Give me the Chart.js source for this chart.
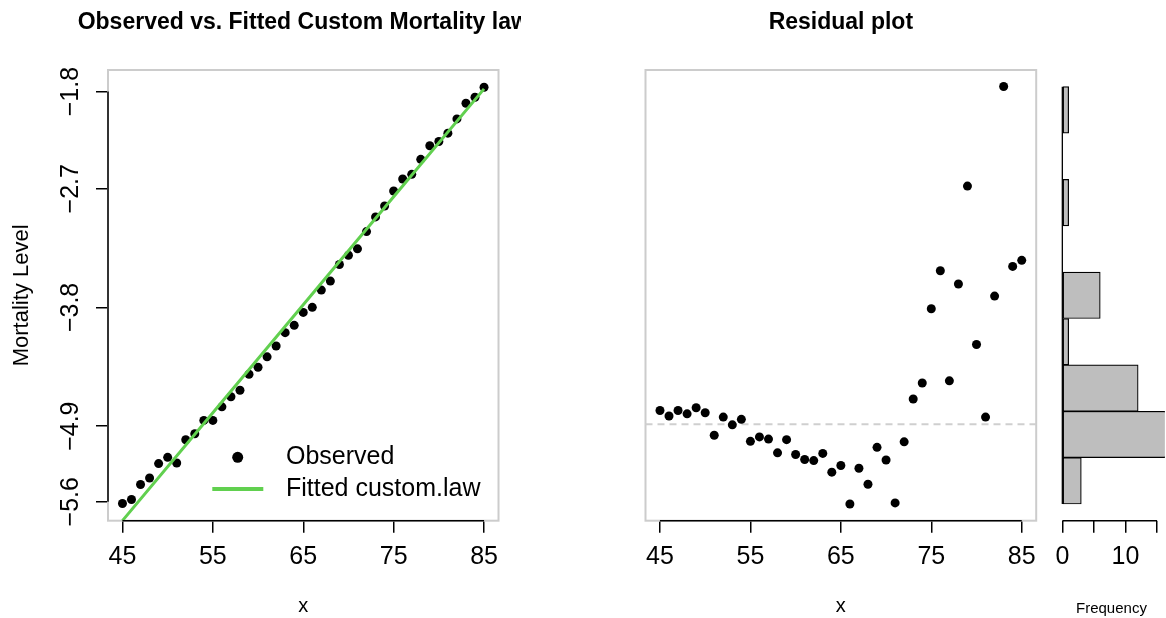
<!DOCTYPE html>
<html>
<head>
<meta charset="utf-8">
<script src="https://cdn.jsdelivr.net/npm/chart.js@4.4.1/dist/chart.umd.min.js"></script>
<style>
  body { margin: 0; background: #fff; }
  #page { position: relative; width: 1166px; height: 618px; overflow: hidden; font-family: "Liberation Sans", Arial, Helvetica, sans-serif; }
  .panel { position: absolute; top: 0; height: 618px; overflow: hidden; }
  .panel canvas { position: absolute; top: 0; left: 0; }
  .main-title { position: absolute; top: 8px; font-weight: bold; font-size: 23px; line-height: 27.6px; white-space: nowrap; transform: translateX(-50%); }
</style>
</head>
<body>
<div id="page">
  <div class="panel" style="left:0;width:521px">
    <canvas id="fitChart" width="521" height="618"></canvas>
    <div class="main-title" style="left:303.25px">Observed vs. Fitted Custom Mortality law</div>
  </div>
  <div class="panel" style="left:524px;width:532px">
    <canvas id="residChart" width="532" height="618"></canvas>
    <div class="main-title" style="left:316.85px">Residual plot</div>
  </div>
  <div class="panel" style="left:1046px;width:120px">
    <canvas id="histChart" width="120" height="618"></canvas>
  </div>
</div>
<script>
// ages and log mortality
const ages = [45, 46, 47, 48, 49, 50, 51, 52, 53, 54, 55, 56, 57, 58, 59, 60, 61, 62, 63, 64, 65,
  66, 67, 68, 69, 70, 71, 72, 73, 74, 75, 76, 77, 78, 79, 80, 81, 82, 83, 84, 85];
const observedLevel = [-5.617, -5.580, -5.441, -5.380, -5.247, -5.189, -5.241, -5.026, -4.970, -4.847,
  -4.847, -4.721, -4.628, -4.567, -4.419, -4.354, -4.258, -4.157, -4.034, -3.966, -3.846,
  -3.799, -3.639, -3.556, -3.402, -3.316, -3.257, -3.097, -2.961, -2.860, -2.721,
  -2.610, -2.567, -2.428, -2.302, -2.262, -2.185, -2.053, -1.908, -1.852, -1.760];
const fittedAges = [45, 55, 65, 75, 85];
const fittedLevel = [-5.775, -4.775, -3.775, -2.775, -1.775];

// residuals (middle panel) and their histogram (right panel)
const residuals = [0.25, 0.15, 0.25, 0.19, 0.30, 0.21, -0.20, 0.13, -0.01, 0.09,
  -0.31, -0.23, -0.27, -0.52, -0.28, -0.55, -0.64, -0.66, -0.53, -0.87, -0.75,
  -1.45, -0.80, -1.09, -0.42, -0.65, -1.43, -0.32, 0.46, 0.75, 2.10,
  2.79, 0.79, 2.55, 4.33, 1.45, 0.13, 2.33, 6.14, 2.87, 2.98];
const freqBreaks = [-2, -1, 0, 1, 2, 3, 4, 5, 6, 7];
const freqCounts = [3, 17, 12, 1, 6, 0, 1, 0, 1];

const ageTicks = [45, 55, 65, 75, 85];
const levelTicks = [-1.8, -2.7, -3.8, -4.9, -5.6];
const freqTicks = [0, 5, 10, 15];

Chart.defaults.font.family = '"Liberation Sans", Arial, Helvetica, sans-serif';
Chart.defaults.color = '#000';

const minus = s => String(s).replace('-', '\u2212');
const tickMarks = { display: true, drawOnChartArea: false, drawTicks: true, tickLength: 12, color: '#000', lineWidth: 1.5 };
const setTicks = list => scale => { scale.ticks = list.map(v => ({ value: v })); };

// grey frame round the plot region
const frameBox = {
  id: 'frameBox',
  beforeDatasetsDraw(chart, args, opts) {
    if (!opts.color) return;
    const { ctx, chartArea: a } = chart;
    ctx.save();
    ctx.strokeStyle = opts.color;
    ctx.lineWidth = opts.width;
    ctx.strokeRect(a.left, a.top, a.right - a.left, a.bottom - a.top);
    ctx.restore();
  }
};

// axis line only from first to last tick, like base R
const axisSpan = {
  id: 'axisSpan',
  afterDraw(chart, args, opts) {
    const ctx = chart.ctx;
    ctx.save();
    ctx.strokeStyle = '#000';
    ctx.lineWidth = 1.5;
    (opts.scales || []).forEach(id => {
      const s = chart.scales[id];
      const p0 = s.getPixelForValue(s.ticks[0].value);
      const p1 = s.getPixelForValue(s.ticks[s.ticks.length - 1].value);
      ctx.beginPath();
      if (s.isHorizontal()) { ctx.moveTo(p0, s.top); ctx.lineTo(p1, s.top); }
      else { ctx.moveTo(s.right, p0); ctx.lineTo(s.right, p1); }
      ctx.stroke();
    });
    ctx.restore();
  }
};

// base of the histogram: a line at zero count over the whole break range
const histBase = {
  id: 'histBase',
  afterDatasetsDraw(chart, args, opts) {
    if (!opts.show) return;
    const { ctx, scales: { x, y } } = chart;
    const px = x.getPixelForValue(0);
    ctx.save();
    ctx.strokeStyle = '#000';
    ctx.lineWidth = 1.3;
    ctx.beginPath();
    ctx.moveTo(px, y.getPixelForValue(freqBreaks[0]));
    ctx.lineTo(px, y.getPixelForValue(freqBreaks[freqBreaks.length - 1]));
    ctx.stroke();
    ctx.restore();
  }
};

// dashed reference line at y = value
const refLine = {
  id: 'refLine',
  beforeDatasetsDraw(chart, args, opts) {
    if (opts.value === undefined) return;
    const { ctx, chartArea: a } = chart;
    const y = chart.scales.y.getPixelForValue(opts.value);
    ctx.save();
    ctx.strokeStyle = opts.color;
    ctx.lineWidth = opts.width;
    ctx.setLineDash(opts.dash);
    ctx.beginPath();
    ctx.moveTo(a.left, y);
    ctx.lineTo(a.right, y);
    ctx.stroke();
    ctx.restore();
  }
};

// legend without box in the bottom right corner of the plot
const insetLegend = {
  id: 'insetLegend',
  afterDraw(chart, args, opts) {
    if (!opts.show) return;
    const { ctx, chartArea: a } = chart;
    const rows = [a.bottom - 63.4, a.bottom - 31.7];
    ctx.save();
    ctx.font = '25px ' + Chart.defaults.font.family;
    ctx.textBaseline = 'middle';
    ctx.textAlign = 'left';
    chart.data.datasets.forEach((ds, i) => {
      const y = rows[i];
      if (ds.showLine) {
        ctx.strokeStyle = ds.borderColor;
        ctx.lineWidth = 4;
        ctx.beginPath();
        ctx.moveTo(a.right - 286.2, y);
        ctx.lineTo(a.right - 235.2, y);
        ctx.stroke();
      } else {
        ctx.fillStyle = ds.backgroundColor;
        ctx.beginPath();
        ctx.arc(a.right - 260.8, y, 5.5, 0, Math.PI * 2);
        ctx.fill();
      }
      ctx.fillStyle = '#000';
      ctx.fillText(ds.label, a.right - 212.5, y);
    });
    ctx.restore();
  }
};

const ageAxis = {
  type: 'linear', min: 43.4, max: 86.6,
  afterBuildTicks: setTicks(ageTicks),
  afterFit: s => { s.height = 97.3; },
  grid: tickMarks, border: { display: false },
  ticks: { font: { size: 25 }, padding: 9, autoSkip: false, maxRotation: 0 },
  title: { display: true, text: 'x', font: { size: 20 }, padding: { top: 0, bottom: 0 } }
};

const common = {
  responsive: false, animation: false, devicePixelRatio: 1, events: [],
  plugins: { legend: { display: false }, tooltip: { enabled: false }, title: { display: false } }
};

new Chart(document.getElementById('fitChart'), {
  type: 'scatter',
  data: {
    datasets: [
      { label: 'Observed', data: ages.map((a, i) => ({ x: a, y: observedLevel[i] })),
        backgroundColor: '#000', pointRadius: 4.5, pointBorderWidth: 0, order: 1 },
      { label: 'Fitted custom.law', data: fittedAges.map((a, i) => ({ x: a, y: fittedLevel[i] })),
        showLine: true, borderColor: '#61D04F', borderWidth: 3, pointRadius: 0, tension: 0, order: 0 }
    ]
  },
  options: {
    ...common,
    layout: { padding: { left: 0, right: 22.5, top: 70, bottom: 0 } },
    plugins: { ...common.plugins, frameBox: { color: '#cccccc', width: 2 },
      axisSpan: { scales: ['x', 'y'] }, insetLegend: { show: true } },
    scales: {
      x: ageAxis,
      y: {
        type: 'linear', min: -5.776, max: -1.6,
        afterBuildTicks: setTicks(levelTicks),
        afterFit: s => { s.width = 108; },
        grid: tickMarks, border: { display: false },
        ticks: { font: { size: 25 }, padding: 0, minRotation: 90, maxRotation: 90, crossAlign: 'center',
          autoSkip: false, callback: v => minus(v.toFixed(1)) },
        title: { display: true, text: 'Mortality Level', font: { size: 22 }, padding: { top: 8.5, bottom: 0 } }
      }
    }
  },
  plugins: [frameBox, axisSpan, insetLegend]
});

new Chart(document.getElementById('residChart'), {
  type: 'scatter',
  data: {
    datasets: [
      { label: 'Residuals', data: ages.map((a, i) => ({ x: a, y: residuals[i] })),
        backgroundColor: '#000', pointRadius: 4.5, pointBorderWidth: 0 }
    ]
  },
  options: {
    ...common,
    layout: { padding: { left: 121.5, right: 19.8, top: 70, bottom: 0 } },
    plugins: { ...common.plugins, frameBox: { color: '#cccccc', width: 2 },
      axisSpan: { scales: ['x'] }, refLine: { value: 0, color: '#cfcfcf', width: 2, dash: [7, 5] } },
    scales: {
      x: ageAxis,
      y: { type: 'linear', display: false, min: -1.753, max: 6.44 }
    }
  },
  plugins: [frameBox, refLine, axisSpan]
});

new Chart(document.getElementById('histChart'), {
  type: 'bar',
  data: {
    datasets: [
      { label: 'Frequency', data: freqCounts.map((c, i) => ({ x: c, y: (freqBreaks[i] + freqBreaks[i + 1]) / 2 })),
        backgroundColor: '#bebebe', borderColor: '#000', borderWidth: 1.2, borderSkipped: false,
        barPercentage: 1, categoryPercentage: 1 }
    ]
  },
  options: {
    ...common,
    indexAxis: 'y',
    layout: { padding: { left: 10.6, right: 0, top: 70, bottom: 0 } },
    plugins: { ...common.plugins, axisSpan: { scales: ['x'] }, histBase: { show: true } },
    scales: {
      x: {
        type: 'linear', min: -0.68, max: 16.23,
        afterBuildTicks: setTicks(freqTicks),
        afterFit: s => { s.height = 97.3; },
        grid: tickMarks, border: { display: false },
        ticks: { font: { size: 25 }, padding: 9, autoSkip: false, maxRotation: 0,
          callback: v => (v % 10 === 0 ? v : '') },
        title: { display: true, text: 'Frequency', font: { size: 15 }, padding: { top: 0, bottom: 0 } }
      },
      y: { type: 'linear', display: false, offset: false, min: -2.36, max: 7.36,
        afterBuildTicks: setTicks(freqBreaks) }
    }
  },
  plugins: [axisSpan, histBase]
});
</script>
</body>
</html>
